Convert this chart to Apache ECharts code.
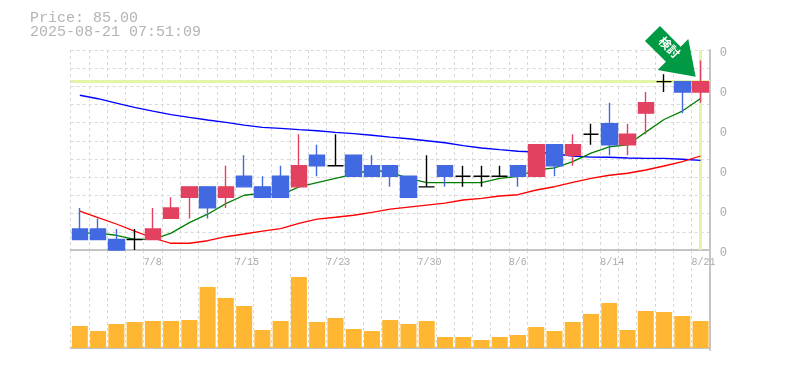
<!DOCTYPE html>
<html>
<head>
<meta charset="utf-8">
<style>
  html, body { margin: 0; padding: 0; background: #fff; }
  #chart { width: 785px; height: 370px; }
</style>
<script src="https://cdn.jsdelivr.net/npm/echarts@6/dist/echarts.min.js"></script>
</head>
<body>
<div id="chart"></div>
<script>
// 日足データ
const dates = ['7/2','7/3','7/4','7/7','7/8','7/9','7/10','7/11','7/14','7/15','7/16','7/17','7/18','7/22','7/23','7/24','7/25','7/28','7/29','7/30','7/31','8/1','8/4','8/5','8/6','8/7','8/8','8/12','8/13','8/14','8/15','8/18','8/19','8/20','8/21'];
const shownDates = ['7/8','7/15','7/23','7/30','8/6','8/14','8/21'];
const opens  = [71,71,70,70,70,72,74,75,74,76,75,76,75,78,77,78,77,77,76,75,77,76,76,76,77,76,79,78,80,81,79,82,85,85,84];
const closes = [70,70,69,70,71,73,75,73,75,75,74,74,77,77,77,76,76,76,74,75,76,76,76,76,76,79,77,79,80,79,80,83,85,84,85];
const lows   = [70,70,69,69,70,72,72,72,73,75,74,74,75,76,77,76,76,75,74,75,75,75,75,76,75,76,76,77,79,78,78,80,84,82,83];
const highs  = [73,72,71,71,73,74,75,75,77,78,76,77,80,79,80,78,78,77,76,78,77,77,77,77,77,79,79,80,81,83,81,84,85.7,85,87];
const maShort = [70.6,70.6,70.4,70,70,70.6,71.6,72.4,73.4,74.2,74.4,74.2,75,75.4,75.8,76.2,76.6,76.4,75.8,75.4,75.4,75.4,75.4,75.8,76,76.6,76.8,77.4,78.2,78.8,79,80.2,81.4,82.2,83.4];
const maMiddle = [72.70,72.07,71.47,70.80,70.14,69.64,69.64,69.88,70.26,70.52,70.80,71.04,71.54,71.94,72.11,72.30,72.58,72.89,73.08,73.27,73.46,73.75,73.91,74.13,74.25,74.70,75.01,75.43,75.81,76.10,76.29,76.60,76.98,77.39,77.93];
const maLong = [83.70,83.37,82.96,82.54,82.20,81.87,81.59,81.35,81.13,80.87,80.64,80.56,80.43,80.33,80.18,80.05,79.90,79.73,79.57,79.38,79.19,78.91,78.69,78.53,78.38,78.31,78.12,77.93,77.83,77.81,77.74,77.71,77.71,77.62,77.52];
const volumes = [22,17,24,26,27,27,28,61,50,42,18,27,71,26,30,19,17,28,24,27,11,11,8,11,13,21,17,26,34,45,18,37,36,32,27];
const yTickLabels = ['0','0','0','0','0','0'];
const lastPrice = 85;
const titleLines = ['Price: 85.00', '2025-08-21 07:51:09'];
const arrowText = '検討';

const candleData = dates.map((d, i) => [opens[i], closes[i], lows[i], highs[i]]);
const gridColor = '#d8d8d8';
const frameColor = '#c4c4c4';
const labelColor = '#b4b4b4';
const tickColor = '#aaa';
const monoFont = '"Liberation Mono", monospace';

// 売買シグナルの矢印
const arrowPath = 'path://M15 0 L35.7 20.7 L43.3 13 L50.7 50.7 L12.7 44 L21 35.7 L0 15 Z';

function lineSeries(data, color, width, z) {
  return {
    type: 'line',
    data: data,
    symbol: 'none',
    silent: true,
    animation: false,
    xAxisIndex: 0,
    yAxisIndex: 0,
    z: z,
    lineStyle: { color: color, width: width }
  };
}

const chart = echarts.init(document.getElementById('chart'), null, { renderer: 'canvas' });

const blueLine = lineSeries(maLong, '#0000ff', 1.3, 2);
const redLine = lineSeries(maMiddle, '#ff0000', 1.3, 2);
const greenLine = lineSeries(maShort, '#008000', 1.3, 2);

// 現在値の十字線
greenLine.markLine = {
  silent: true,
  symbol: 'none',
  animation: false,
  z: 1,
  label: { show: false },
  lineStyle: { color: '#e4f5aa', width: 3, type: 'solid' },
  data: [{ yAxis: lastPrice }, { xAxis: dates[dates.length - 1] }]
};

chart.setOption({
  animation: false,
  backgroundColor: '#fff',
  title: {
    text: titleLines.join('\n'),
    left: 30,
    top: 11,
    padding: 0,
    textStyle: { fontFamily: monoFont, fontSize: 15, fontWeight: 'normal', color: labelColor, lineHeight: 14 }
  },
  grid: [
    { left: 70.7, top: 50, width: 639, height: 200 },
    { left: 70.7, top: 250, width: 639, height: 100 }
  ],
  xAxis: [
    {
      type: 'category', gridIndex: 0, data: dates, boundaryGap: true,
      axisLine: { lineStyle: { color: frameColor, width: 2 } },
      axisTick: { show: false },
      axisLabel: { show: false },
      splitLine: { show: true, interval: 0, lineStyle: { color: gridColor, type: [3, 3] } }
    },
    {
      type: 'category', gridIndex: 1, data: dates, boundaryGap: true,
      axisLine: { lineStyle: { color: frameColor, width: 2 } },
      axisTick: { show: false },
      axisLabel: { show: false },
      splitLine: { show: true, interval: 0, lineStyle: { color: gridColor, type: [3, 3] } }
    },
    {
      // 日付ラベルは足の左端に揃える
      type: 'category', gridIndex: 0, data: dates.concat(['']), boundaryGap: false, position: 'bottom',
      axisLine: { show: false },
      axisTick: { show: false },
      splitLine: { show: false },
      axisLabel: {
        interval: 0, align: 'left', margin: 7, hideOverlap: false,
        showMinLabel: true, showMaxLabel: true,
        fontFamily: monoFont, fontSize: 10, color: tickColor,
        formatter: (v) => shownDates.includes(v) ? v : ''
      }
    }
  ],
  yAxis: [
    {
      type: 'value', gridIndex: 0, min: 69, max: 88, position: 'right',
      axisLine: { show: true, onZero: false, lineStyle: { color: frameColor, width: 2 } },
      axisTick: { show: false }, axisLabel: { show: false }, splitLine: { show: false }
    },
    {
      type: 'value', gridIndex: 1, min: -2, max: 98, position: 'right',
      axisLine: { show: true, onZero: false, lineStyle: { color: frameColor, width: 2 } },
      axisTick: { show: false }, axisLabel: { show: false }, splitLine: { show: false }
    },
    {
      // 横の補助線
      type: 'value', gridIndex: 0, min: 0, max: 11, interval: 1, position: 'left',
      axisLine: { show: false }, axisTick: { show: false }, axisLabel: { show: false },
      splitLine: { show: true, lineStyle: { color: gridColor, type: [3, 3] } }
    },
    {
      // 右側の目盛ラベル
      type: 'value', gridIndex: 0, min: 0, max: 5, interval: 1, position: 'right',
      axisLine: { show: false }, axisTick: { show: false }, splitLine: { show: false },
      axisLabel: {
        margin: 10, fontFamily: monoFont, fontSize: 12, color: tickColor,
        verticalAlign: 'top', lineHeight: 6,
        formatter: (v) => yTickLabels[v]
      }
    }
  ],
  series: [
    blueLine,
    redLine,
    greenLine,
    {
      type: 'candlestick',
      data: candleData,
      xAxisIndex: 0,
      yAxisIndex: 0,
      barWidth: 16,
      z: 3,
      silent: true,
      itemStyle: {
        color: '#e2425f',
        color0: '#4169e1',
        borderColor: '#e2425f',
        borderColor0: '#4169e1',
        borderColorDoji: '#000',
        borderWidth: 1.4
      },
      markPoint: {
        silent: true,
        animation: false,
        data: [{
          coord: [dates[33], 87.87],
          symbol: arrowPath,
          symbolSize: [50.7, 50.7],
          symbolOffset: [-12, 0],
          itemStyle: { color: '#009944' },
          label: {
            show: true,
            position: 'inside',
            formatter: arrowText,
            rotate: -45,
            offset: [-3.6, -2.3],
            color: '#fff',
            fontSize: 12,
            fontWeight: 'bold',
            fontFamily: '"Noto Sans CJK JP", sans-serif'
          }
        }]
      }
    },
    {
      type: 'bar',
      data: volumes,
      xAxisIndex: 1,
      yAxisIndex: 1,
      barWidth: 16,
      silent: true,
      itemStyle: { color: '#ffb733' }
    }
  ]
});
</script>
</body>
</html>
